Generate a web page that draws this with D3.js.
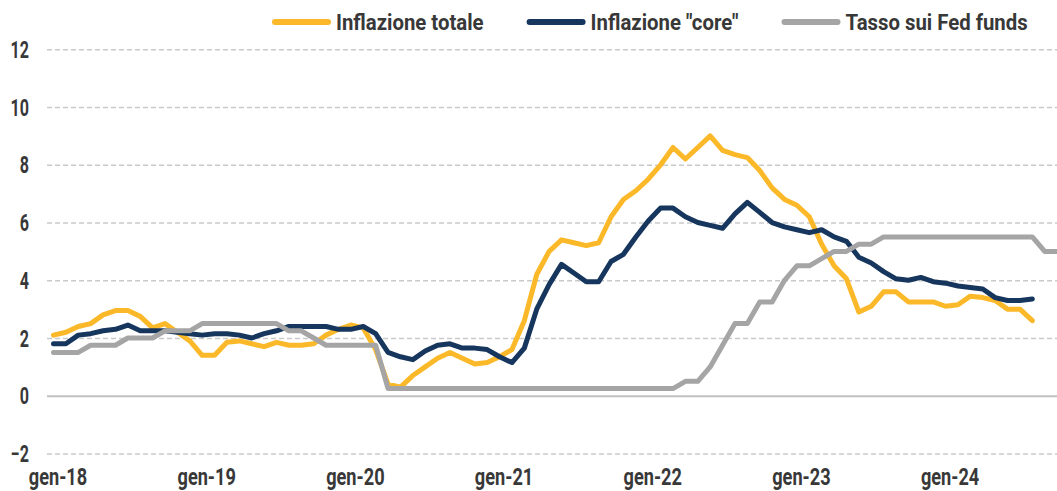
<!DOCTYPE html>
<html>
<head>
<meta charset="utf-8">
<script src="https://cdn.jsdelivr.net/npm/d3@7"></script>
<style>
  body { margin: 0; background: #fff; }
  svg { display: block; }
  text { font-family: Roboto, 'Noto Sans', sans-serif; font-weight: 700; fill: #383838; }
</style>
</head>
<body>
<div id="chart"></div>
<script>
// monthly, gen-18 .. ott-24
const months = d3.timeMonth.range(new Date(2018, 0, 1), new Date(2024, 10, 1))

// CPI YoY, gen-18 .. ago-24
const headline = [
  2.1, 2.2, 2.4, 2.5, 2.8, 2.95, 2.95, 2.75, 2.35, 2.5, 2.2, 1.9,
  1.4, 1.4, 1.85, 1.9, 1.8, 1.7, 1.85, 1.75, 1.75, 1.8, 2.1, 2.3,
  2.45, 2.35, 1.6, 0.4, 0.3, 0.7, 1.0, 1.3, 1.5, 1.3, 1.1, 1.15,
  1.35, 1.6, 2.6, 4.2, 5.0, 5.4, 5.3, 5.2, 5.3, 6.2, 6.8, 7.1,
  7.5, 8.0, 8.6, 8.2, 8.6, 9.0, 8.5, 8.35, 8.25, 7.8, 7.2, 6.8,
  6.6, 6.2, 5.25, 4.5, 4.05, 2.9, 3.1, 3.6, 3.6, 3.25, 3.25, 3.25,
  3.1, 3.15, 3.45, 3.4, 3.3, 3.0, 3.0, 2.6
]
const core = [
  1.8, 1.8, 2.1, 2.15, 2.25, 2.3, 2.45, 2.25, 2.25, 2.25, 2.2, 2.15,
  2.1, 2.15, 2.15, 2.1, 2.0, 2.15, 2.25, 2.4, 2.4, 2.4, 2.4, 2.3,
  2.3, 2.4, 2.15, 1.5, 1.35, 1.25, 1.55, 1.75, 1.8, 1.65, 1.65, 1.6,
  1.35, 1.15, 1.65, 3.0, 3.85, 4.55, 4.25, 3.95, 3.95, 4.65, 4.9, 5.5,
  6.05, 6.5, 6.5, 6.2, 6.0, 5.9, 5.8, 6.3, 6.7, 6.35, 6.0, 5.85,
  5.75, 5.65, 5.75, 5.5, 5.35, 4.8, 4.6, 4.3, 4.05, 4.0, 4.1, 3.95,
  3.9, 3.8, 3.75, 3.7, 3.4, 3.3, 3.3, 3.35
]
// Fed funds (upper bound), gen-18 .. ott-24
const fedFunds = [
  1.5, 1.5, 1.5, 1.75, 1.75, 1.75, 2.0, 2.0, 2.0, 2.25, 2.25, 2.25,
  2.5, 2.5, 2.5, 2.5, 2.5, 2.5, 2.5, 2.25, 2.25, 2.0, 1.75, 1.75,
  1.75, 1.75, 1.75, 0.25, 0.25, 0.25, 0.25, 0.25, 0.25, 0.25, 0.25, 0.25,
  0.25, 0.25, 0.25, 0.25, 0.25, 0.25, 0.25, 0.25, 0.25, 0.25, 0.25, 0.25,
  0.25, 0.25, 0.25, 0.5, 0.5, 1.0, 1.75, 2.5, 2.5, 3.25, 3.25, 4.0,
  4.5, 4.5, 4.75, 5.0, 5.0, 5.25, 5.25, 5.5, 5.5, 5.5, 5.5, 5.5,
  5.5, 5.5, 5.5, 5.5, 5.5, 5.5, 5.5, 5.5, 5.0, 5.0
]

const yTicks = [-2, 0, 2, 4, 6, 8, 10, 12]
const xTickLabels = ['gen-18', 'gen-19', 'gen-20', 'gen-21', 'gen-22', 'gen-23', 'gen-24']
const seriesNames = ['Inflazione totale', 'Inflazione "core"', 'Tasso sui Fed funds']
const seriesColors = ['#FBB829', '#17365D', '#A5A5A5']

const width = 1057, height = 491
const fontSize = 23
// the original face is a narrow one, squeeze a normal bold to fit
const squeezeY = 0.7, squeezeX = 0.79, squeezeLegend = 0.885

const svg = d3.select('#chart').append('svg')
  .attr('width', width)
  .attr('height', height)

const x = d3.scalePoint()
  .domain(months)
  .range([53.5, 1057.1])

const y = d3.scaleLinear()
  .domain([-2, 12])
  .range([453.5, 49.3])

// grid
const grid = svg.append('g')
  .attr('transform', 'translate(47,0)')
  .call(d3.axisRight(y).tickValues(yTicks).tickSize(width - 47).tickFormat(''))
grid.select('.domain').remove()
grid.selectAll('.tick line')
  .attr('stroke', d => d === 0 ? '#C0C0C0' : '#CACACA')
  .attr('stroke-width', d => d === 0 ? 2 : 1.4)
  .attr('stroke-dasharray', d => d === 0 ? null : '5,3')

// y labels
const yAxis = svg.append('g')
  .attr('transform', 'translate(29,0)')
  .call(d3.axisLeft(y).tickValues(yTicks).tickSize(0).tickPadding(0))
yAxis.select('.domain').remove()
yAxis.selectAll('.tick text')
  .attr('font-size', fontSize)
  .attr('font-family', null)
  .attr('fill', null)
  .attr('dy', '0.35em')
  .attr('transform', `scale(${squeezeY},1)`)

// x labels
const janMonths = months.filter(d => d.getMonth() === 0)
const xAxis = svg.append('g')
  .attr('transform', 'translate(0,466)')
  .call(d3.axisBottom(x).tickValues(janMonths)
    .tickFormat((d, i) => xTickLabels[i]).tickSize(0).tickPadding(3))
xAxis.select('.domain').remove()
xAxis.selectAll('.tick text')
  .attr('font-size', fontSize)
  .attr('font-family', null)
  .attr('fill', null)
  .attr('x', 4 / squeezeX)
  .attr('transform', `scale(${squeezeX},1)`)

// lines
const line = d3.line()
  .defined(d => d != null)
  .x((d, i) => x(months[i]))
  .y(d => y(d))

const allSeries = [headline, core, fedFunds]
svg.append('g').selectAll('path')
  .data(allSeries)
  .enter().append('path')
  .attr('d', line)
  .attr('fill', 'none')
  .attr('stroke', (d, i) => seriesColors[i])
  .attr('stroke-width', 5)
  .attr('stroke-linejoin', 'round')
  .attr('stroke-linecap', 'round')

// legend
const legend = svg.append('g').attr('transform', 'translate(0,22)')
let cursor = 275
seriesNames.forEach((name, i) => {
  legend.append('line')
    .attr('x1', cursor).attr('x2', cursor + 53)
    .attr('y1', 0).attr('y2', 0)
    .attr('stroke', seriesColors[i])
    .attr('stroke-width', 6)
    .attr('stroke-linecap', 'round')
  const label = legend.append('text')
    .attr('x', (cursor + 61) / squeezeLegend)
    .attr('y', 0)
    .attr('dy', '0.35em')
    .attr('font-size', fontSize)
    .attr('transform', `scale(${squeezeLegend},1)`)
    .text(name)
  const w = label.node().getComputedTextLength() * squeezeLegend
  cursor = cursor + 61 + w + 46
})
</script>
</body>
</html>
